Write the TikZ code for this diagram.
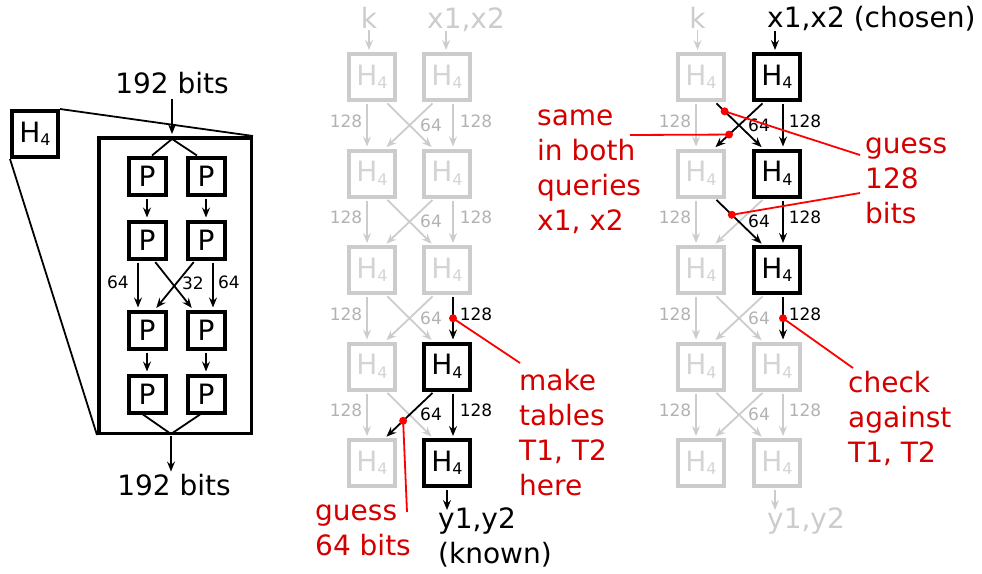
\documentclass[tikz,border=0pt]{standalone}
\usepackage{fontspec}
\setmainfont{DejaVu Sans}
\usetikzlibrary{arrows.meta}
\definecolor{boxgray}{RGB}{204,204,204}
\definecolor{textgray}{RGB}{212,212,212}
\definecolor{labelgray}{RGB}{178,178,178}
\definecolor{notered}{RGB}{212,0,0}
\newcommand{\bigsize}{\fontsize{28}{35}\selectfont}
\newcommand{\smallsize}{\fontsize{17}{20}\selectfont}
\newcommand{\Hfour}{H\raisebox{-3.5pt}{\fontsize{16}{16}\selectfont 4}}
\newcommand{\stack}[1]{\begin{tabular}[t]{@{}l@{}}#1\end{tabular}}
\tikzset{
  hbox/.style={draw, line width=4pt, minimum size=46pt, inner sep=0pt, font=\bigsize},
  hblack/.style={hbox, draw=black, text=black},
  hgray/.style={hbox, draw=boxgray, text=textgray},
  pbox/.style={draw, line width=4pt, minimum size=37pt, inner sep=0pt, font=\bigsize},
  arr/.style={line width=1.8pt, -{Stealth[length=10pt,width=8pt,inset=3.5pt]}, shorten <=2pt, shorten >=2pt},
  garr/.style={arr, draw=boxgray},
  barr/.style={arr, draw=black},
  wire/.style={line width=1.8pt},
  lbl/.style={font=\smallsize, inner sep=0pt},
  glbl/.style={lbl, text=labelgray},
  blbl/.style={lbl, text=black},
  txt/.style={font=\bigsize, inner sep=0pt},
  redtext/.style={font=\bigsize, text=notered, inner sep=0pt, anchor=base west},
  pointer/.style={draw=red, line width=1.8pt},
  reddot/.style={circle, fill=red, inner sep=0pt, minimum size=8pt},
}
\begin{document}
\begin{tikzpicture}[x=1pt, y=-1pt]
\useasboundingbox (0,0) rectangle (982,573);

% ---------------- H4 expanded into its permutation network ----------------
\node[hblack] (h) at (35,134) {\Hfour};
\node[draw, line width=3.5pt, minimum width=152.5pt, minimum height=295.5pt, inner sep=0pt] (big) at (175,285.5) {};
\draw[wire] (h.north east) -- (big.north east);
\draw[wire] (h.south west) -- (big.south west);
\node[txt, anchor=base] (bitsin) at (172,93) {192 bits};
\node[txt, anchor=base] (bitsout) at (174,495) {192 bits};
\foreach \n/\x/\y in {p11/147/176, p12/206/176, p21/147/240, p22/206/240,
                      p31/147/330, p32/206/330, p41/147/394, p42/206/394}
  \node[pbox] (\n) at (\x,\y) {P};
\coordinate (fork) at (172,139);
\coordinate (join) at (171,434);
\draw[barr] ([yshift=-4pt]bitsin.base) -- (bitsin.base |- big.north);
\draw[wire] (fork) -- ([xshift=5pt]p11.north);
\draw[wire] (fork) -- ([xshift=-9pt]p12.north);
\draw[barr] (p11) -- (p21);
\draw[barr] (p12) -- (p22);
\draw[barr] ([xshift=-9pt]p21.south) -- ([xshift=-9pt]p31.north);
\draw[barr] ([xshift=7pt]p22.south) -- ([xshift=7pt]p32.north);
\draw[barr] ([xshift=7pt]p21.south) -- ([xshift=-13pt]p32.north);
\draw[barr] ([xshift=-11pt]p22.south) -- ([xshift=8pt]p31.north);
\node[blbl] (pl1) at (118,282) {64};
\node[blbl] (pl2) at (193,283) {32};
\node[blbl] (pl3) at (229,282) {64};
\draw[barr] (p31) -- (p41);
\draw[barr] (p32) -- (p42);
\draw[wire] ([xshift=-4pt]p41.south) -- (join);
\draw[wire] ([xshift=-6pt]p42.south) -- (join);
\draw[barr] (join) -- (join |- bitsout.north);

% ---------------- middle cascade: tables from the known output ----------------
\node[hgray]  (mA1) at (372,77)    {\Hfour};
\node[hgray]  (mB1) at (447,77)    {\Hfour};
\node[hgray]  (mA2) at (372,173.5) {\Hfour};
\node[hgray]  (mB2) at (447,173.5) {\Hfour};
\node[hgray]  (mA3) at (372,270)   {\Hfour};
\node[hgray]  (mB3) at (447,270)   {\Hfour};
\node[hgray]  (mA4) at (372,366.5) {\Hfour};
\node[hblack] (mB4) at (447,366.5) {\Hfour};
\node[hgray]  (mA5) at (372,463)   {\Hfour};
\node[hblack] (mB5) at (447,463)   {\Hfour};

\node[txt, anchor=base, text=boxgray] (mk) at (369,28) {k};
\node[txt, anchor=base west, text=boxgray] (mx) at (427,28) {x1,x2};
\draw[garr] (mk.south) -- (mk.south |- mA1.north);
\draw[garr] ([xshift=19pt,yshift=-1pt]mx.base west) -- ([xshift=-1pt]mB1.north);

% stage 1-2
\draw[garr] ([xshift=-5pt]mA1.south) -- ([xshift=-5pt]mA2.north);
\draw[garr] ([xshift=6pt]mB1.south) -- ([xshift=6pt]mB2.north);
\draw[garr] ([xshift=14pt]mA1.south) -- ([xshift=-14pt]mB2.north);
\draw[garr] ([xshift=-13pt]mB1.south) -- ([xshift=13pt]mA2.north);
\node[glbl] (m1l) at (346,121) {128};
\node[glbl] (m1c) at (431,125) {64};
\node[glbl] (m1r) at (476,121) {128};
% stage 2-3
\draw[garr] ([xshift=-5pt]mA2.south) -- ([xshift=-5pt]mA3.north);
\draw[garr] ([xshift=6pt]mB2.south) -- ([xshift=6pt]mB3.north);
\draw[garr] ([xshift=14pt]mA2.south) -- ([xshift=-14pt]mB3.north);
\draw[garr] ([xshift=-13pt]mB2.south) -- ([xshift=13pt]mA3.north);
\node[glbl] (m2l) at (346,217.5) {128};
\node[glbl] (m2c) at (431,221.5) {64};
\node[glbl] (m2r) at (476,217.5) {128};
% stage 3-4
\draw[garr] ([xshift=-5pt]mA3.south) -- ([xshift=-5pt]mA4.north);
\draw[garr] ([xshift=14pt]mA3.south) -- ([xshift=-14pt]mB4.north);
\draw[garr] ([xshift=-13pt]mB3.south) -- ([xshift=13pt]mA4.north);
\draw[barr] ([xshift=6pt]mB3.south) -- coordinate[pos=0.5] (dT) ([xshift=6pt]mB4.north);
\node[glbl] (m3l) at (346,314) {128};
\node[glbl] (m3c) at (431,318) {64};
\node[blbl] (m3r) at (476,314) {128};
% stage 4-5
\draw[garr] ([xshift=-5pt]mA4.south) -- ([xshift=-5pt]mA5.north);
\draw[garr] ([xshift=14pt]mA4.south) -- ([xshift=-14pt]mB5.north);
\draw[barr] ([xshift=6pt]mB4.south) -- ([xshift=6pt]mB5.north);
\draw[barr] ([xshift=-13pt]mB4.south) -- coordinate[pos=0.63] (dG) ([xshift=13pt]mA5.north);
\node[glbl] (m4l) at (346,410.5) {128};
\node[blbl] (m4c) at (431,414.5) {64};
\node[blbl] (m4r) at (476,410.5) {128};

\node[txt, anchor=base west] (ykn) at (438,528) {\stack{y1,y2\\(known)}};
\draw[barr] (mB5.south) -- ([xshift=9pt,yshift=16pt]ykn.base west);

\node[redtext] (tables) at (519,390) {\stack{make\\tables\\T1, T2\\here}};
\node[redtext] (guessA) at (315,520) {\stack{guess\\64 bits}};

% ---------------- right cascade: chosen inputs ----------------
\node[hgray]  (rA1) at (701,77)    {\Hfour};
\node[hblack] (rB1) at (777,77)    {\Hfour};
\node[hgray]  (rA2) at (701,173.5) {\Hfour};
\node[hblack] (rB2) at (777,173.5) {\Hfour};
\node[hgray]  (rA3) at (701,270)   {\Hfour};
\node[hblack] (rB3) at (777,270)   {\Hfour};
\node[hgray]  (rA4) at (701,366.5) {\Hfour};
\node[hgray]  (rB4) at (777,366.5) {\Hfour};
\node[hgray]  (rA5) at (701,463)   {\Hfour};
\node[hgray]  (rB5) at (777,463)   {\Hfour};

\node[txt, anchor=base, text=boxgray] (rk) at (697.5,28) {k};
\node[txt, anchor=base west] (rx) at (767,27) {x1,x2 (chosen)};
\draw[garr] (rk.south) -- (rk.south |- rA1.north);
\draw[barr] ([xshift=8pt,yshift=-2pt]rx.base west) -- ([xshift=-2pt]rB1.north);

% stage 1-2
\draw[garr] ([xshift=-5pt]rA1.south) -- ([xshift=-5pt]rA2.north);
\draw[barr] ([xshift=6pt]rB1.south) -- ([xshift=6pt]rB2.north);
\draw[barr] ([xshift=14pt]rA1.south) -- coordinate[pos=0.2] (dA) ([xshift=-14pt]rB2.north);
\draw[barr] ([xshift=-13pt]rB1.south) -- coordinate[pos=0.7] (dS) ([xshift=13pt]rA2.north);
\node[glbl] (r1l) at (675,121) {128};
\node[blbl] (r1c) at (759,125) {64};
\node[blbl] (r1r) at (805,121) {128};
% stage 2-3
\draw[garr] ([xshift=-5pt]rA2.south) -- ([xshift=-5pt]rA3.north);
\draw[garr] ([xshift=-13pt]rB2.south) -- ([xshift=13pt]rA3.north);
\draw[barr] ([xshift=6pt]rB2.south) -- ([xshift=6pt]rB3.north);
\draw[barr] ([xshift=14pt]rA2.south) -- coordinate[pos=0.35] (dB) ([xshift=-14pt]rB3.north);
\node[glbl] (r2l) at (675,217.5) {128};
\node[blbl] (r2c) at (759,221.5) {64};
\node[blbl] (r2r) at (805,217.5) {128};
% stage 3-4
\draw[garr] ([xshift=-5pt]rA3.south) -- ([xshift=-5pt]rA4.north);
\draw[garr] ([xshift=14pt]rA3.south) -- ([xshift=-14pt]rB4.north);
\draw[garr] ([xshift=-13pt]rB3.south) -- ([xshift=13pt]rA4.north);
\draw[barr] ([xshift=6pt]rB3.south) -- coordinate[pos=0.5] (dC) ([xshift=6pt]rB4.north);
\node[glbl] (r3l) at (675,314) {128};
\node[glbl] (r3c) at (759,318) {64};
\node[blbl] (r3r) at (805,314) {128};
% stage 4-5
\draw[garr] ([xshift=-5pt]rA4.south) -- ([xshift=-5pt]rA5.north);
\draw[garr] ([xshift=6pt]rB4.south) -- ([xshift=6pt]rB5.north);
\draw[garr] ([xshift=14pt]rA4.south) -- ([xshift=-14pt]rB5.north);
\draw[garr] ([xshift=-13pt]rB4.south) -- ([xshift=13pt]rA5.north);
\node[glbl] (r4l) at (675,410.5) {128};
\node[glbl] (r4c) at (759,414.5) {64};
\node[glbl] (r4r) at (805,410.5) {128};

\node[txt, anchor=base west, text=boxgray] (ygr) at (767,528) {y1,y2};
\draw[garr] ([xshift=-2pt]rB5.south) -- ([xshift=8pt,yshift=16pt]ygr.base west);

\node[redtext] (same) at (537,125) {\stack{same\\in both\\queries\\x1, x2}};
\node[redtext] (guessB) at (865,153) {\stack{guess\\128\\bits}};
\node[redtext] (check) at (848,392) {\stack{check\\against\\T1, T2}};

% ---------------- red annotation pointers ----------------
\draw[pointer] (dT) -- ([xshift=1pt,yshift=27pt]tables.base west);
\draw[pointer] (dG) -- ([xshift=92pt,yshift=8pt]guessA.base west);
\draw[pointer] (dS) -- ([xshift=93pt,yshift=-10pt]same.base west);
\draw[pointer] (dA) -- ([xshift=-5pt,yshift=-2pt]guessB.base west);
\draw[pointer] (dB) -- ([xshift=-5pt,yshift=-40pt]guessB.base west);
\draw[pointer] (dC) -- ([xshift=5pt,yshift=24pt]check.base west);
\foreach \d in {dT,dG,dS,dA,dB,dC}
  \node[reddot] (\d-mark) at (\d) {};
\end{tikzpicture}
\end{document}
